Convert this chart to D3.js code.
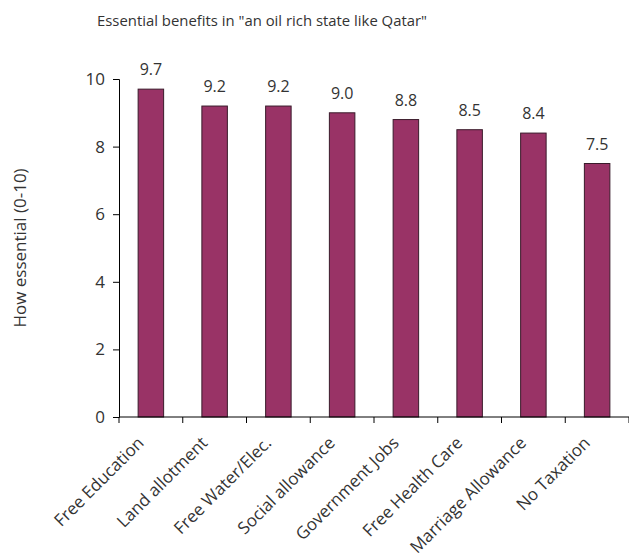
<!DOCTYPE html>
<html>
<head>
<meta charset="utf-8">
<script src="https://cdn.jsdelivr.net/npm/d3@7"></script>
<style>
  body { margin: 0; background: #fff; }
  text { font-family: "Open Sans", sans-serif; fill: #333; }
</style>
</head>
<body>
<div id="chart"></div>
<script>
// chart data
const categories = ["Free Education", "Land allotment", "Free Water/Elec.", "Social allowance",
                    "Government Jobs", "Free Health Care", "Marriage Allowance", "No Taxation"];
const values = [9.7, 9.2, 9.2, 9.0, 8.8, 8.5, 8.4, 7.5];
const yTicks = [0, 2, 4, 6, 8, 10];

const WIDTH = 629;
const HEIGHT = 559;
const MARGIN = { TOP: 79, BOTTOM: 142, LEFT: 119, RIGHT: 0 };
const BAR_COLOR = "#993366";

const width = WIDTH - MARGIN.LEFT - MARGIN.RIGHT;
const height = HEIGHT - MARGIN.TOP - MARGIN.BOTTOM;

const svg = d3.select('#chart')
  .append('svg')
    .attr('width', WIDTH)
    .attr('height', HEIGHT);

svg.append("text")
   .attr("x", 262)
   .attr("y", 26)
   .attr("text-anchor", "middle")
   .attr("textLength", 330)
   .attr("lengthAdjust", "spacingAndGlyphs")
   .style("font-size", "15px")
   .text('Essential benefits in "an oil rich state like Qatar"');

const g = svg.append('g')
  .attr('transform', `translate(${MARGIN.LEFT}, ${MARGIN.TOP})`);

const x = d3.scaleBand()
  .domain(categories)
  .range([0, width])
  .paddingInner(0.6)
  .paddingOuter(0.3);

const y = d3.scaleLinear()
  .domain([0, 10])
  .range([height, 0]);

// bars
g.selectAll('.bar')
  .data(values)
  .enter()
  .append('rect')
    .attr('class', 'bar')
    .attr('x', (d, i) => x(categories[i]))
    .attr('y', d => y(d))
    .attr('width', x.bandwidth())
    .attr('height', d => y(0) - y(d))
    .attr('fill', BAR_COLOR)
    .attr('stroke', '#3a1b2b')
    .attr('stroke-width', 1);

// value labels
g.selectAll('.val')
  .data(values)
  .enter()
  .append('text')
    .attr('class', 'val')
    .attr('x', (d, i) => x(categories[i]) + x.bandwidth() / 2)
    .attr('y', d => y(d) - 14)
    .attr('text-anchor', 'middle')
    .style('font-size', '16px')
    .text(d => d3.format('.1f')(d));

// y axis
const yAxis = g.append('g')
  .call(d3.axisLeft(y).tickValues(yTicks).tickSize(6).tickPadding(8));
yAxis.select('.domain').attr('stroke', '#000');
yAxis.selectAll('.tick line').attr('stroke', '#000');
yAxis.selectAll('.tick text').style('font-size', '17px').attr('fill', '#333');

// x axis: ticks at category boundaries
const bounds = d3.range(categories.length + 1).map(i => i * width / categories.length);
g.append('line')
  .attr('x1', 0).attr('x2', width)
  .attr('y1', height).attr('y2', height)
  .attr('stroke', '#000');
g.selectAll('.xtick')
  .data(bounds)
  .enter()
  .append('line')
    .attr('x1', d => d).attr('x2', d => d)
    .attr('y1', height).attr('y2', height + 6)
    .attr('stroke', '#000');

g.selectAll('.cat')
  .data(categories)
  .enter()
  .append('text')
    .attr('class', 'cat')
    .attr('text-anchor', 'end')
    .attr('transform', d => `translate(${x(d) + x.bandwidth() / 2 - 6}, ${height + 27}) rotate(-45)`)
    .style('font-size', '17px')
    .text(d => d);

svg.append('text')
   .attr('transform', `translate(26, ${MARGIN.TOP + height / 2}) rotate(-90)`)
   .attr('text-anchor', 'middle')
   .style('font-size', '17px')
   .text('How essential (0-10)');
</script>
</body>
</html>
